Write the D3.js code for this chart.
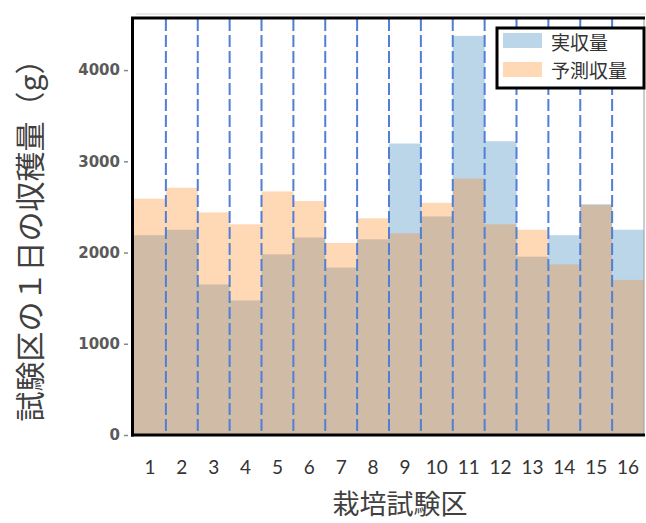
<!DOCTYPE html>
<html><head><meta charset="utf-8">
<script src="https://cdn.jsdelivr.net/npm/d3@7"></script>
<style>body{margin:0;background:#fff;}svg{display:block;}</style>
</head><body><svg id="c" width="646" height="523"></svg>
<script>
const categories = ["1","2","3","4","5","6","7","8","9","10","11","12","13","14","15","16"];
const actualYield = [2190, 2250, 1650, 1475, 1980, 2165, 1835, 2145, 3195, 2395, 4375, 3220, 1955, 2190, 2530, 2250];
const predictedYield = [2590, 2710, 2440, 2310, 2670, 2565, 2105, 2375, 2210, 2545, 2810, 2310, 2250, 1870, 2520, 1700];
const yTicks = [0, 1000, 2000, 3000, 4000];
const seriesNames = ["実収量", "予測収量"];
const xTitle = "栽培試験区";
const yTitle = "試験区の１日の収穫量（g）";

const svg = d3.select("#c");
const L = 134, R = 644, T = 19, B = 435;
const x = d3.scaleBand().domain(categories).range([L, R]).paddingInner(0).paddingOuter(0);
const y = d3.scaleLinear().domain([0, 4560]).range([B, T]);
const colA = "#1f77b4", colP = "#ff7f0e", op = 0.3;

// faint shadow line on top
svg.append("line").attr("x1", 136).attr("x2", 646).attr("y1", 14).attr("y2", 14).attr("stroke", "#e2e2e2").attr("stroke-width", 1.5);

// bars
svg.append("g").selectAll("rect").data(actualYield).join("rect")
  .attr("x", (d, i) => x(categories[i])).attr("width", x.bandwidth())
  .attr("y", d => y(d)).attr("height", d => y(0) - y(d))
  .attr("fill", colA).attr("fill-opacity", op);
svg.append("g").selectAll("rect").data(predictedYield).join("rect")
  .attr("x", (d, i) => x(categories[i])).attr("width", x.bandwidth())
  .attr("y", d => y(d)).attr("height", d => y(0) - y(d))
  .attr("fill", colP).attr("fill-opacity", op);

// dashed separators
svg.append("g").selectAll("line").data(categories.slice(1)).join("line")
  .attr("x1", d => x(d)).attr("x2", d => x(d))
  .attr("y1", T).attr("y2", B)
  .attr("stroke", "#4f7fd6").attr("stroke-width", 2).attr("stroke-dasharray", "12,4");

// frame
svg.append("line").attr("x1", R).attr("x2", R).attr("y1", T).attr("y2", B).attr("stroke", "#9a9a9a").attr("stroke-width", 1);
svg.append("line").attr("x1", L - 3).attr("x2", R + 1).attr("y1", T - 1).attr("y2", T - 1).attr("stroke", "#000").attr("stroke-width", 3);
svg.append("line").attr("x1", L - 3).attr("x2", R + 1).attr("y1", B).attr("y2", B).attr("stroke", "#000").attr("stroke-width", 3);
svg.append("line").attr("x1", L - 1.5).attr("x2", L - 1.5).attr("y1", T - 2).attr("y2", B + 1.5).attr("stroke", "#000").attr("stroke-width", 3);

// y axis
const ya = svg.append("g").attr("transform", `translate(${L - 6},0)`)
  .call(d3.axisLeft(y).tickValues(yTicks).tickSize(4).tickPadding(4).tickFormat(d3.format("d")));
ya.select(".domain").remove();
ya.selectAll(".tick line").attr("stroke", "#888").attr("stroke-width", 1.5);
ya.selectAll(".tick text").attr("font-family", "DejaVu Sans").attr("font-weight", "bold")
  .attr("font-size", 15).attr("fill", "#5a5a5a");

// x axis
const xa = svg.append("g").attr("transform", `translate(0,${B})`)
  .call(d3.axisBottom(x).tickSize(0).tickPadding(33));
xa.select(".domain").remove();
xa.selectAll(".tick text").attr("font-family", "Lato, 'Liberation Sans'").attr("font-size", 19)
  .attr("fill", "#333").attr("dy", "0.3em");

// titles
svg.append("text").attr("x", 400).attr("y", 502).attr("text-anchor", "middle").attr("dominant-baseline", "central")
  .attr("font-family", "'Noto Sans CJK JP'").attr("font-size", 27).attr("fill", "#404040").text(xTitle);
svg.append("text").attr("transform", "translate(28,233) rotate(-90)").attr("text-anchor", "middle").attr("dominant-baseline", "central")
  .attr("font-family", "'Noto Sans CJK JP'").attr("font-size", 30).attr("fill", "#404040").text(yTitle);

// legend
const lg = svg.append("g");
lg.append("rect").attr("x", 497).attr("y", 28).attr("width", 147).attr("height", 60)
  .attr("fill", "#fff").attr("stroke", "#000").attr("stroke-width", 3);
[colA, colP].forEach((c, i) => {
  lg.append("rect").attr("x", 503).attr("y", 33 + i * 29).attr("width", 39).attr("height", 15)
    .attr("fill", c).attr("fill-opacity", op);
  lg.append("text").attr("x", 551).attr("y", 41 + i * 28).attr("dominant-baseline", "central")
    .attr("font-family", "'Noto Sans CJK JP'").attr("font-size", 19).attr("fill", "#333").text(seriesNames[i]);
});
</script></body></html>
